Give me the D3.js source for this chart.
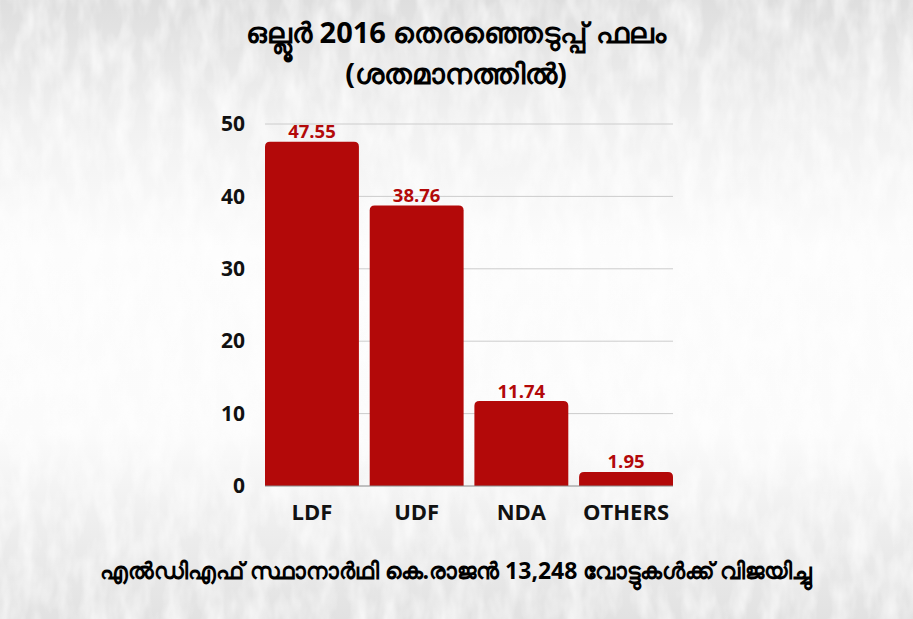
<!DOCTYPE html>
<html><head><meta charset="utf-8">
<script src="https://cdn.jsdelivr.net/npm/d3@7"></script>
<style>html,body{margin:0;padding:0;background:#fff;}svg{display:block;}</style>
</head><body>
<svg id="chart" width="913" height="619"></svg>
<script>
const categories = ["LDF", "UDF", "NDA", "OTHERS"];
const values = [47.55, 38.76, 11.74, 1.95];
const yTicks = [0, 10, 20, 30, 40, 50];
const titleLines = ["ഒല്ലൂർ 2016 തെരഞ്ഞെടുപ്പ് ഫലം", "(ശതമാനത്തിൽ)"];
const footer = "എൽഡിഎഫ് സ്ഥാനാർഥി കെ.രാജൻ 13,248 വോട്ടുകൾക്ക് വിജയിച്ചു";

const W = 913, H = 619;
const svg = d3.select("#chart");
const defs = svg.append("defs");
const g1 = defs.append("linearGradient").attr("id","bg").attr("x1",0).attr("y1",0).attr("x2",0).attr("y2",1);
[[0,"#dedede"],[0.2,"#f1f1f1"],[0.4,"#fcfcfc"],[0.7,"#fbfbfb"],[0.85,"#eeeeee"],[1,"#e2e2e2"]].forEach(([o,c])=>g1.append("stop").attr("offset",o).attr("stop-color",c));
const f = defs.append("filter").attr("id","noise").attr("x",0).attr("y",0).attr("width","100%").attr("height","100%");
f.append("feTurbulence").attr("type","fractalNoise").attr("baseFrequency","0.06 0.025").attr("numOctaves",3).attr("seed",4).attr("result","t");
f.append("feColorMatrix").attr("type","matrix").attr("values","0 0 0 0 1  0 0 0 0 1  0 0 0 0 1  0 0 0 1.6 -0.55");
svg.append("rect").attr("width",W).attr("height",H).attr("fill","url(#bg)");
svg.append("rect").attr("width",W).attr("height",H).attr("filter","url(#noise)").attr("opacity",0.8);

const font = "'Open Sans','Noto Sans',sans-serif";
const x = d3.scaleBand().domain(categories).range([265, 673]).paddingInner(0.103).paddingOuter(0);
const y = d3.scaleLinear().domain([0, 50]).range([486, 124]);

// gridlines
svg.append("g").selectAll("line").data(yTicks.filter(t=>t>0)).join("line")
  .attr("x1",265).attr("x2",673).attr("y1",d=>y(d)).attr("y2",d=>y(d))
  .attr("stroke","#cccccc").attr("stroke-width",1);

// y axis labels
const ya = svg.append("g").attr("transform","translate(245,0)")
  .call(d3.axisLeft(y).tickValues(yTicks).tickSize(0).tickPadding(0).tickFormat(d3.format("d")));
ya.select(".domain").remove();
ya.selectAll("text").attr("font-family",font).attr("font-weight","bold").attr("font-size",21).attr("fill","#111");

// bars with rounded tops
const r = 5;
svg.append("g").selectAll("path").data(categories).join("path")
  .attr("fill","#b30909")
  .attr("d",(c,i)=>{
    const x0=x(c), w=x.bandwidth(), yt=y(values[i]), yb=y(0);
    const rr=Math.min(r,(yb-yt));
    return `M${x0},${yb}V${yt+rr}Q${x0},${yt} ${x0+rr},${yt}H${x0+w-rr}Q${x0+w},${yt} ${x0+w},${yt+rr}V${yb}Z`;
  });

// baseline
svg.append("line").attr("x1",265).attr("x2",673).attr("y1",y(0)).attr("y2",y(0)).attr("stroke","#888").attr("stroke-width",1);

// value labels
svg.append("g").selectAll("text").data(categories).join("text")
  .attr("x",c=>x(c)+x.bandwidth()/2).attr("y",(c,i)=>y(values[i])-3.5)
  .attr("text-anchor","middle").attr("font-family",font).attr("font-weight","bold").attr("font-size",18.5)
  .attr("fill","#b30909").text((c,i)=>values[i].toFixed(2));

// x axis labels
const xa = svg.append("g").attr("transform",`translate(0,${y(0)})`)
  .call(d3.axisBottom(x).tickSize(0).tickPadding(18));
xa.select(".domain").remove();
xa.selectAll("text").attr("font-family",font).attr("font-weight","bold").attr("font-size",22).attr("fill","#111");

// title
svg.append("g").selectAll("text").data(titleLines).join("text")
  .attr("x",456).attr("y",(d,i)=>43+i*41).attr("text-anchor","middle")
  .attr("font-family",font).attr("font-weight","bold").attr("font-size",29).attr("fill","#000").text(d=>d);

// footer
svg.append("text").attr("x",456).attr("y",579).attr("text-anchor","middle")
  .attr("font-family",font).attr("font-weight","bold").attr("font-size",23).attr("fill","#000").text(footer);
</script>
</body></html>
